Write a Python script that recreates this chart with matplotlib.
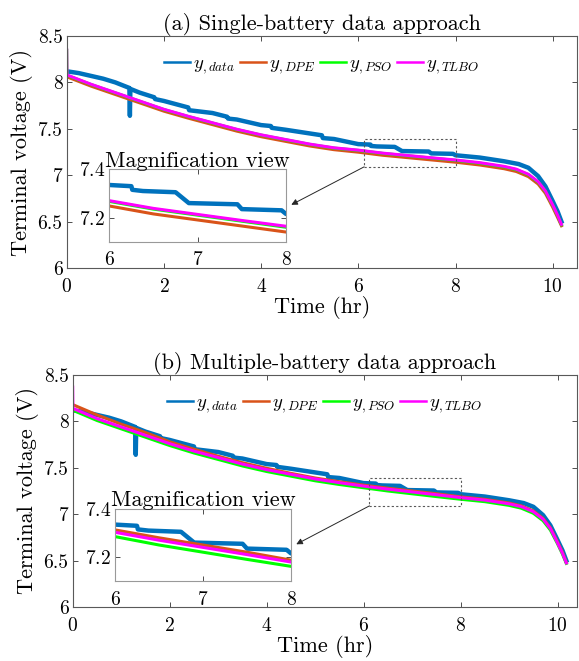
import matplotlib
matplotlib.use('Agg')
import matplotlib.pyplot as plt
from matplotlib.patches import Rectangle
from matplotlib.ticker import FormatStrFormatter

plt.rcParams['font.family'] = 'cmr10'
plt.rcParams['mathtext.fontset'] = 'cm'
plt.rcParams['axes.formatter.use_mathtext'] = True

# measured terminal voltage (same record in both panels)
t_data = [0, 0.25, 0.5, 0.75, 1.0, 1.29, 1.3, 1.31, 1.5, 1.8, 1.82, 2.0, 2.5,
          2.52, 3.0, 3.3, 3.32, 3.5, 4.0, 4.2, 4.22, 4.5, 5.0, 5.25, 5.27, 5.5,
          6.0, 6.25, 6.26, 6.38, 6.75, 6.9, 7.45, 7.5, 7.95, 8.0, 8.5, 9.0, 9.3,
          9.5, 9.7, 9.85, 10.0, 10.1, 10.18]
v_data = [8.12, 8.10, 8.07, 8.04, 8.00, 7.94, 7.64, 7.93, 7.89, 7.84, 7.82, 7.80,
          7.73, 7.70, 7.67, 7.63, 7.61, 7.60, 7.54, 7.53, 7.51, 7.49, 7.45, 7.43,
          7.40, 7.39, 7.335, 7.33, 7.315, 7.31, 7.305, 7.26, 7.255, 7.235, 7.23,
          7.215, 7.19, 7.15, 7.12, 7.08, 6.99, 6.88, 6.72, 6.61, 6.50]

# model outputs
t_mod = [0, 0.005, 0.5, 1.0, 1.5, 2.0, 2.5, 3.0, 3.5, 4.0, 4.5, 5.0, 5.5, 6.0, 6.5,
         7.0, 7.5, 8.0, 8.5, 9.0, 9.25, 9.5, 9.7, 9.85, 10.0, 10.1, 10.18]

# (a) single-battery
a_dpe = [8.06, 8.06, 7.96, 7.87, 7.78, 7.69, 7.615, 7.545, 7.475, 7.415, 7.365,
         7.315, 7.275, 7.248, 7.215, 7.19, 7.165, 7.14, 7.11, 7.07, 7.04, 6.985,
         6.905, 6.805, 6.655, 6.545, 6.455]
a_pso = [8.345, 8.077, 7.977, 7.887, 7.797, 7.707, 7.632, 7.562, 7.492, 7.432,
         7.382, 7.332, 7.292, 7.267, 7.235, 7.21, 7.185, 7.16, 7.13, 7.09, 7.06,
         7.005, 6.925, 6.825, 6.675, 6.565, 6.465]
a_tlbo = [8.35, 8.08, 7.98, 7.89, 7.80, 7.71, 7.635, 7.565, 7.495, 7.435, 7.385,
          7.335, 7.295, 7.27, 7.238, 7.213, 7.188, 7.164, 7.135, 7.095, 7.065,
          7.01, 6.93, 6.83, 6.68, 6.57, 6.47]

# (b) multiple-battery
b_dpe = [8.18, 8.18, 8.07, 7.97, 7.88, 7.78, 7.70, 7.625, 7.555, 7.495, 7.44,
         7.39, 7.35, 7.313, 7.28, 7.25, 7.22, 7.187, 7.16, 7.12, 7.09, 7.035,
         6.955, 6.855, 6.70, 6.59, 6.48]
b_pso = [8.12, 8.12, 8.01, 7.92, 7.83, 7.74, 7.66, 7.59, 7.52, 7.46, 7.41, 7.36,
         7.32, 7.285, 7.25, 7.22, 7.19, 7.161, 7.135, 7.095, 7.065, 7.01, 6.93,
         6.83, 6.68, 6.57, 6.47]
b_tlbo = [8.37, 8.14, 8.03, 7.94, 7.85, 7.76, 7.68, 7.61, 7.54, 7.48, 7.43, 7.38,
          7.34, 7.303, 7.27, 7.24, 7.21, 7.179, 7.152, 7.112, 7.082, 7.027, 6.947,
          6.847, 6.69, 6.58, 6.475]

labels = [r'$y_{,data}$', r'$y_{,DPE}$', r'$y_{,PSO}$', r'$y_{,TLBO}$']
colors = ['#0072BD', '#D95319', '#00FF00', '#FF00FF']
titles = ['(a) Single-battery data approach', '(b) Multiple-battery data approach']

W, H = 579, 661
fig = plt.figure(figsize=(W / 100, H / 100), dpi=100)


def frac(l, t, r, b):
    # pixel box -> figure fraction rect
    return [l / W, 1 - b / H, (r - l) / W, (b - t) / H]


def style(ax, fs, pad_x, pad_y, spine):
    ax.tick_params(direction='in', top=True, right=True, labelsize=fs,
                   length=3.5, width=0.7, color='0.3')
    ax.tick_params(axis='x', pad=pad_x)
    ax.tick_params(axis='y', pad=pad_y)
    for s in ax.spines.values():
        s.set_color(spine)
        s.set_linewidth(0.8)


panels = [
    (frac(66.7, 36, 577, 268), frac(109.3, 169.3, 286, 241.7), 10.5,
     [v_data, a_dpe, a_pso, a_tlbo]),
    (frac(72.7, 375, 577, 607), frac(115, 509, 291, 581), 10.4,
     [v_data, b_dpe, b_pso, b_tlbo]),
]

for i, (rect, irect, xmax, series) in enumerate(panels):
    ax = fig.add_axes(rect)
    for j, (ys, c, lab) in enumerate(zip(series, colors, labels)):
        tt = t_data if j == 0 else t_mod
        lw = 3.2 if j == 0 else 2.2
        ax.plot(tt, ys, color=c, lw=lw, label=lab)
    ax.set_xlim(0, xmax)
    ax.set_ylim(6, 8.5)
    ax.set_xticks([0, 2, 4, 6, 8, 10])
    ax.set_yticks([6, 6.5, 7, 7.5, 8, 8.5])
    ax.yaxis.set_major_formatter(FormatStrFormatter('%g'))
    style(ax, 14, 7, 3, '0.35')
    ax.set_title(titles[i], fontsize=16, pad=4)
    ax.set_xlabel('Time (hr)', fontsize=16, labelpad=0)
    ax.set_ylabel('Terminal voltage (V)', fontsize=16, labelpad=3)
    leg = ax.legend(loc='upper center', ncol=4, frameon=False, fontsize=13.5,
                    handlelength=1.4, handletextpad=0.15, columnspacing=0.25,
                    bbox_to_anchor=(0.5, 0.97), borderaxespad=0.2)
    for hl in leg.get_lines():
        hl.set_linewidth(1.8)

    # zoomed region box
    ax.add_patch(Rectangle((6.12, 7.09), 1.88, 0.30, fill=False, ls=(0, (2, 2)),
                           lw=0.8, ec='0.35', zorder=5))

    ins = fig.add_axes(irect)
    for j, (ys, c) in enumerate(zip(series, colors)):
        tt = t_data if j == 0 else t_mod
        lw = 3.2 if j == 0 else 2.2
        ins.plot(tt, ys, color=c, lw=lw)
    ins.set_xlim(6, 8)
    ins.set_ylim(7.1, 7.4)
    ins.set_xticks([6, 7, 8])
    ins.set_yticks([7.2, 7.4])
    style(ins, 14, 7, 3, '0.6')
    ins.set_title('Magnification view', fontsize=16, pad=2)

    ax.annotate('', xy=(1.03, 0.51), xycoords=ins.transAxes,
                xytext=(6.12, 7.09), textcoords='data',
                arrowprops=dict(arrowstyle='-|>', color='0.15', lw=0.7,
                                mutation_scale=9, shrinkA=0, shrinkB=0))

fig.savefig('out.png', dpi=100)
